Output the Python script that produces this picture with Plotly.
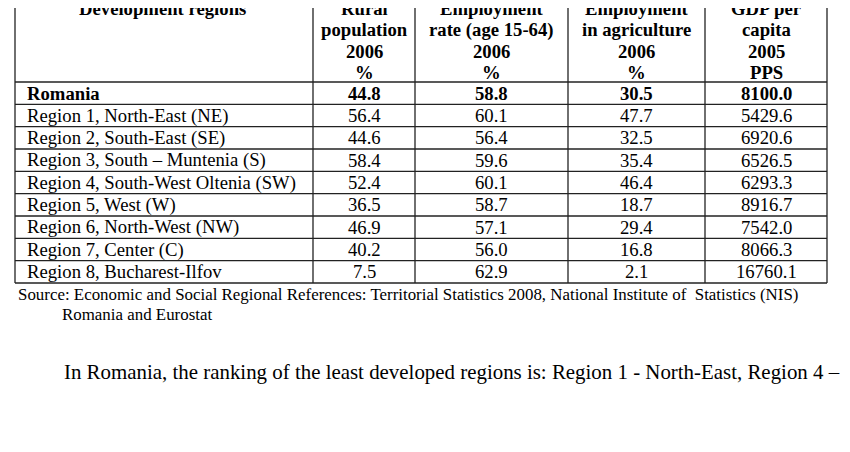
import plotly.graph_objects as go

regions = ["Romania", "Region 1, North-East (NE)", "Region 2, South-East (SE)",
           "Region 3, South – Muntenia (S)", "Region 4, South-West Oltenia (SW)",
           "Region 5, West (W)", "Region 6, North-West (NW)", "Region 7, Center (C)",
           "Region 8, Bucharest-Ilfov"]
rural = ["44.8", "56.4", "44.6", "58.4", "52.4", "36.5", "46.9", "40.2", "7.5"]
emp_rate = ["58.8", "60.1", "56.4", "59.6", "60.1", "58.7", "57.1", "56.0", "62.9"]
emp_agri = ["30.5", "47.7", "32.5", "35.4", "46.4", "18.7", "29.4", "16.8", "2.1"]
gdp = ["8100.0", "5429.6", "6920.6", "6526.5", "6293.3", "8916.7", "7542.0", "8066.3", "16760.1"]
headers = [["Development regions"],
           ["Rural", "population", "2006", "%"],
           ["Employment", "rate (age 15-64)", "2006", "%"],
           ["Employment", "in agriculture", "2006", "%"],
           ["GDP per", "capita", "2005", "PPS"]]
source = ["Source: Economic and Social Regional References: Territorial Statistics 2008, National Institute of  Statistics (NIS)",
          "Romania and Eurostat"]
para = ["In Romania, the ranking of the least developed regions is: Region 1 - North-East, Region 4 –",
        "South-West-Oltenia and Region 3 – South-Muntenia. These regions have a high degree of ruralization",
        "compared to the average level in Romania. In 2006, the three regions have covered together 54.2% of"]

FONT = "Liberation Serif, Times New Roman, serif"
xs = [15, 313, 415, 568, 705, 827]
centers = [None] + [(xs[i] + xs[i + 1]) / 2 for i in range(1, 5)]
hb = 82
bot = 283
rh = (bot - hb) / len(regions)
TS = 18.7

fig = go.Figure()
fig.add_trace(go.Scatter(x=[8, 850], y=[8, 452], mode="markers", marker=dict(opacity=0), hoverinfo="skip"))

ann = []
shapes = []
line = dict(color="#222", width=1.3)
for x in xs:
    shapes.append(dict(type="line", x0=x, x1=x, y0=-5, y1=bot, line=line))
for k in range(len(regions) + 1):
    y = hb + k * rh
    shapes.append(dict(type="line", x0=xs[0], x1=xs[-1], y0=y, y1=y, line=line))

for ci, lines in enumerate(headers):
    cx = 162 if ci == 0 else centers[ci]
    for li, t in enumerate(lines):
        ann.append(dict(x=cx, y=8 + li * 21.5, text="<b>%s</b>" % t, showarrow=False,
                        xanchor="center", yanchor="middle", font=dict(size=TS, family=FONT, color="black")))

cols = [rural, emp_rate, emp_agri, gdp]
for ri, name in enumerate(regions):
    y = hb + (ri + 0.5) * rh
    b = ri == 0
    fmt = (lambda s: "<b>%s</b>" % s) if b else (lambda s: s)
    ann.append(dict(x=25, y=y, text=fmt(name), showarrow=False, xanchor="left", yanchor="middle",
                    font=dict(size=TS, family=FONT, color="black")))
    for ci, col in enumerate(cols):
        ann.append(dict(x=centers[ci + 1], y=y, text=fmt(col[ri]), showarrow=False, xanchor="center",
                        yanchor="middle", font=dict(size=TS, family=FONT, color="black")))

ann.append(dict(x=16, y=294, text=source[0], showarrow=False, xanchor="left", yanchor="middle",
                font=dict(size=16.9, family=FONT, color="black")))
ann.append(dict(x=60, y=314, text=source[1], showarrow=False, xanchor="left", yanchor="middle",
                font=dict(size=16.9, family=FONT, color="black")))

px = [62, 0, 0]
py = [372, 407, 442]
for t, x, y in zip(para, px, py):
    ann.append(dict(x=x, y=y, text=t, showarrow=False, xanchor="left", yanchor="middle",
                    font=dict(size=20.9, family=FONT, color="black")))

fig.update_layout(width=842, height=444, margin=dict(l=0, r=0, t=0, b=0),
                  paper_bgcolor="white", plot_bgcolor="white", showlegend=False,
                  xaxis=dict(range=[8, 850], visible=False, fixedrange=True),
                  yaxis=dict(range=[452, 8], visible=False, fixedrange=True),
                  annotations=ann, shapes=shapes)
fig.write_html("out.html")
